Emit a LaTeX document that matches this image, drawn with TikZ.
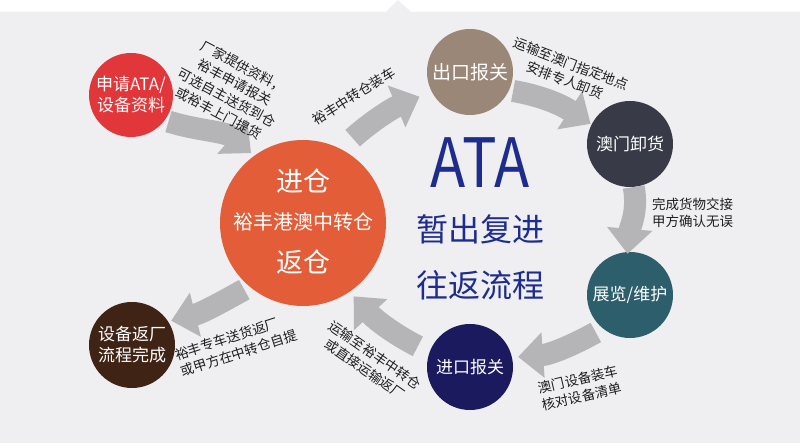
\documentclass[tikz,border=0pt]{standalone}
\usepackage{fontspec}
\setmainfont{Noto Sans CJK SC}
\usetikzlibrary{arrows.meta}
\definecolor{bggray}{HTML}{EFEFF2}
\definecolor{flowgray}{HTML}{B5B5B7}
\definecolor{reqred}{HTML}{E1373B}
\definecolor{hubred}{HTML}{E35E38}
\definecolor{expbrown}{HTML}{9B8777}
\definecolor{unldark}{HTML}{393A47}
\definecolor{showteal}{HTML}{2C5E6B}
\definecolor{impnavy}{HTML}{1B1A5E}
\definecolor{backbrown}{HTML}{3F2314}
\definecolor{titleblue}{HTML}{1E2D8D}
\definecolor{notegray}{HTML}{1E1E1E}
\begin{document}
\begin{tikzpicture}[x=1pt,y=1pt,
stage/.style={circle,inner sep=0,minimum size=86pt,text=white,align=center,font=\fontsize{17}{21}\selectfont},
flow/.style={draw=flowgray,line width=22pt,-{Triangle[length=25pt,width=44pt]}},
note/.style={text=notegray,align=center,inner sep=0,font=\fontsize{13.5}{17.5}\selectfont}]
\fill[white](0,0)rectangle(800,443);
\fill[bggray](0,0)--(800,0)--(800,431)--(411,431)--(398,443)--(386,431)--(0,431)--cycle;
% stations
\node[stage,fill=reqred,minimum size=84pt](apply)at(131,348){申请ATA/\\设备资料};
\node[stage,fill=hubred,minimum size=166pt](hub)at(303,220){};
\node[text=white,font=\fontsize{27}{27}\selectfont](hubin)at(303,262){进仓};
\node[text=white,font=\fontsize{20}{20}\selectfont](hubname)at(303,221){裕丰港澳中转仓};
\node[text=white,font=\fontsize{27}{27}\selectfont](hubout)at(303,181){返仓};
\node[stage,fill=expbrown,font=\fontsize{19}{23}\selectfont](export)at(470,371){出口报关};
\node[stage,fill=unldark](unload)at(630,299){澳门卸货};
\node[stage,fill=showteal](show)at(630,148){展览/维护};
\node[stage,fill=impnavy](import)at(470,76){进口报关};
\node[stage,fill=backbrown](back)at(132,98){设备返厂\\流程完成};
% flow
\draw[flow,shorten <=4pt,shorten >=4pt](apply.-37)to[out=-17,in=139](hub.126);
\draw[flow,shorten <=16pt,shorten >=13pt](hub.63)to[out=42,in=-157](export.207);
\draw[flow,shorten <=4pt,shorten >=1pt](export.-25)to[out=-10,in=147](unload.153);
\draw[flow,shorten >=-2pt](unload.-85)to[out=-80,in=85](show.93);
\draw[flow,shorten <=8pt,shorten >=6pt](show.231)to[out=209,in=4](import.13);
\draw[flow,shorten <=13pt,shorten >=6pt](import.160)to[out=153,in=-47](hub.-56);
\draw[flow,shorten <=6pt,shorten >=3pt](hub.230)to[out=209,in=14](back.33);
% notes
\node[note,rotate=-28](n1)at(231,353){厂家提供资料，\\裕丰申请报关\\可选自主送货到仓\\或裕丰上门提货};
\node[note,rotate=32](n2)at(354,347){裕丰中转仓装车};
\node[note,rotate=-21](n3)at(568,371){运输至澳门指定地点\\安排专人卸货};
\node[note,align=left,anchor=west](n4)at(652,230){完成货物交接\\甲方确认无误};
\node[note,rotate=13](n5)at(580,55){澳门设备装车\\核对设备清单};
\node[note,rotate=-35](n6)at(370,81){运输至裕丰中转仓\\或直接运输返厂};
\node[note,rotate=18,align=left](n7)at(236,98){裕丰专车送货返厂\\或甲方在中转仓自提};
% title
\node[text=titleblue,font=\fontsize{68}{68}\selectfont,xscale=.85,transform shape](ata)at(480,280){ATA};
\node[text=titleblue,font=\fontsize{32}{32}\selectfont](t1)at(480,214){暂出复进};
\node[text=titleblue,font=\fontsize{32}{32}\selectfont](t2)at(480,158){往返流程};
\end{tikzpicture}
\end{document}
